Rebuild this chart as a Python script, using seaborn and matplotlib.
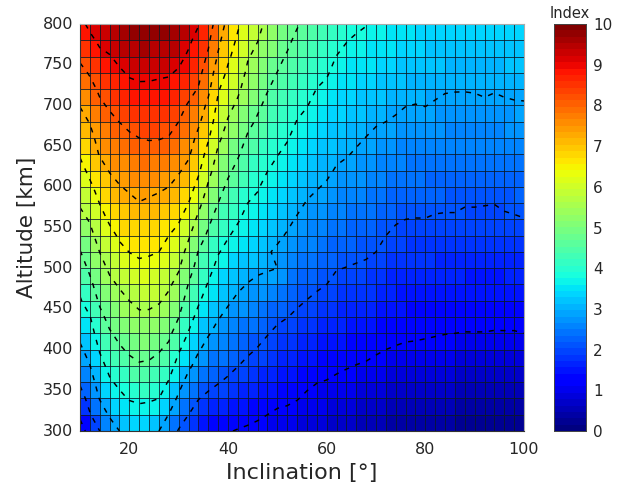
import numpy as np
import pandas as pd
import matplotlib
matplotlib.use("Agg")
import matplotlib.pyplot as plt
import seaborn as sns

# ==========================
# DATA (index, 300..800 km every 20 km, per inclination)
# ==========================
altitudes = list(range(300, 801, 20))
inclinations = list(range(10, 101, 2))
contour_levels = [1.17, 2.05, 2.92, 3.8, 4.67, 5.55, 6.42, 7.29, 8.16, 9.04]
x_ticks = [20, 40, 60, 80, 100]
y_ticks = [300, 350, 400, 450, 500, 550, 600, 650, 700, 750, 800]
bar_ticks = [0, 1, 2, 3, 4, 5, 6, 7, 8, 9, 10]

inc_10 = [.85, 1.3, 1.75, 2.13, 2.46, 2.79, 3.1, 3.41, 3.72, 4.02, 4.33, 4.64, 4.98, 5.31, 5.64, 5.87, 6.17, 6.49, 6.76, 7.03, 7.32, 7.64, 7.97, 8.28, 8.55, 8.85]
inc_12 = [1.45, 2.0, 2.3, 2.6, 2.9, 3.2, 3.48, 3.76, 4.2, 4.5, 4.8, 5.05, 5.32, 5.62, 5.95, 6.28, 6.6, 6.88, 7.05, 7.33, 7.67, 7.95, 8.22, 8.52, 8.88, 9.2]
inc_14 = [2.05, 2.52, 2.96, 3.25, 3.55, 3.86, 4.17, 4.48, 4.78, 5.04, 5.3, 5.56, 5.86, 6.14, 6.44, 6.7, 7.02, 7.34, 7.57, 7.8, 8.05, 8.27, 8.58, 8.88, 9.17, 9.4]
inc_16 = [2.55, 3.0, 3.35, 3.7, 4.0, 4.3, 4.6, 4.88, 5.14, 5.4, 5.66, 5.92, 6.2, 6.53, 6.8, 7.05, 7.33, 7.55, 7.78, 8.01, 8.24, 8.5, 8.75, 9.0, 9.3, 9.55]
inc_18 = [2.92, 3.28, 3.63, 3.95, 4.27, 4.58, 4.85, 5.1, 5.36, 5.62, 5.92, 6.24, 6.52, 6.78, 7.02, 7.26, 7.47, 7.7, 7.93, 8.17, 8.42, 8.68, 8.94, 9.22, 9.5, 9.72]
inc_20 = [3.05, 3.45, 3.85, 4.17, 4.48, 4.77, 5.04, 5.29, 5.55, 5.84, 6.14, 6.43, 6.67, 6.91, 7.15, 7.38, 7.6, 7.83, 8.06, 8.32, 8.59, 8.85, 9.12, 9.38, 9.62, 9.82]
inc_22 = [3.12, 3.55, 3.92, 4.27, 4.6, 4.9, 5.18, 5.43, 5.7, 5.98, 6.26, 6.53, 6.78, 7.02, 7.27, 7.5, 7.73, 7.94, 8.16, 8.41, 8.66, 8.92, 9.18, 9.43, 9.68, 9.9]
inc_24 = [3.08, 3.52, 3.88, 4.22, 4.57, 4.86, 5.14, 5.42, 5.7, 5.96, 6.22, 6.49, 6.72, 6.96, 7.2, 7.45, 7.7, 7.95, 8.2, 8.43, 8.67, 8.92, 9.17, 9.43, 9.68, 9.9]
inc_26 = [2.92, 3.36, 3.8, 4.12, 4.42, 4.73, 5.02, 5.31, 5.61, 5.88, 6.15, 6.42, 6.66, 6.9, 7.13, 7.38, 7.65, 7.92, 8.19, 8.42, 8.65, 8.89, 9.13, 9.38, 9.62, 9.85]
inc_28 = [2.45, 2.9, 3.32, 3.75, 4.14, 4.5, 4.84, 5.1, 5.38, 5.66, 5.9, 6.16, 6.42, 6.7, 7.0, 7.29, 7.57, 7.85, 8.13, 8.38, 8.62, 8.86, 9.1, 9.35, 9.58, 9.75]
inc_30 = [2.0, 2.38, 2.8, 3.16, 3.5, 3.88, 4.28, 4.69, 5.0, 5.3, 5.62, 5.9, 6.2, 6.5, 6.78, 7.07, 7.36, 7.63, 7.9, 8.16, 8.36, 8.64, 8.96, 9.22, 9.44, 9.6]
inc_32 = [1.72, 2.05, 2.32, 2.67, 3.05, 3.45, 3.76, 4.06, 4.35, 4.64, 4.97, 5.3, 5.65, 6.02, 6.42, 6.77, 7.09, 7.39, 7.63, 7.87, 8.1, 8.38, 8.67, 8.94, 9.16, 9.35]
inc_34 = [1.5, 1.8, 2.07, 2.37, 2.67, 2.98, 3.28, 3.6, 3.89, 4.14, 4.39, 4.64, 5.02, 5.38, 5.78, 6.18, 6.55, 6.83, 7.1, 7.42, 7.76, 8.12, 8.36, 8.58, 8.82, 9.08]
inc_36 = [1.3, 1.6, 1.93, 2.2, 2.45, 2.7, 2.97, 3.23, 3.49, 3.75, 4.0, 4.27, 4.54, 4.83, 5.13, 5.45, 5.8, 6.15, 6.5, 6.85, 7.1, 7.48, 7.78, 8.05, 8.3, 8.55]
inc_38 = [1.22, 1.5, 1.8, 2.08, 2.3, 2.52, 2.74, 2.96, 3.18, 3.4, 3.62, 3.84, 4.06, 4.38, 4.67, 4.9, 5.15, 5.4, 5.7, 6.0, 6.25, 6.5, 6.85, 7.2, 7.48, 7.78]
inc_40 = [1.2, 1.45, 1.7, 1.96, 2.2, 2.42, 2.6, 2.78, 2.99, 3.2, 3.42, 3.63, 3.84, 4.07, 4.31, 4.55, 4.78, 5.02, 5.25, 5.49, 5.74, 5.98, 6.28, 6.55, 6.8, 7.05]
inc_42 = [1.14, 1.38, 1.6, 1.82, 2.06, 2.28, 2.47, 2.63, 2.82, 3.02, 3.23, 3.44, 3.65, 3.85, 4.07, 4.3, 4.51, 4.73, 4.96, 5.19, 5.43, 5.67, 5.88, 6.08, 6.3, 6.52]
inc_44 = [1.1, 1.3, 1.5, 1.72, 1.92, 2.14, 2.33, 2.53, 2.72, 2.9, 3.08, 3.27, 3.45, 3.63, 3.8, 4.0, 4.2, 4.4, 4.6, 4.82, 5.04, 5.25, 5.43, 5.6, 5.82, 6.05]
inc_46 = [1.05, 1.24, 1.44, 1.63, 1.83, 2.02, 2.22, 2.43, 2.62, 2.82, 3.0, 3.17, 3.34, 3.52, 3.69, 3.85, 4.03, 4.22, 4.41, 4.59, 4.77, 4.97, 5.17, 5.38, 5.57, 5.72]
inc_48 = [1.0, 1.17, 1.36, 1.55, 1.74, 1.92, 2.07, 2.27, 2.47, 2.77, 2.96, 2.96, 3.12, 3.29, 3.46, 3.63, 3.81, 3.99, 4.17, 4.35, 4.53, 4.7, 4.85, 5.03, 5.22, 5.42]
inc_50 = [.95, 1.1, 1.28, 1.45, 1.63, 1.8, 1.97, 2.12, 2.35, 2.72, 2.92, 2.85, 3.0, 3.17, 3.34, 3.51, 3.66, 3.82, 3.98, 4.15, 4.32, 4.49, 4.66, 4.81, 5.0, 5.2]
inc_52 = [.9, 1.07, 1.25, 1.42, 1.58, 1.73, 1.88, 2.06, 2.22, 2.42, 2.62, 2.76, 2.88, 3.02, 3.19, 3.35, 3.51, 3.68, 3.84, 4.0, 4.16, 4.31, 4.47, 4.62, 4.78, 4.98]
inc_54 = [.85, 1.02, 1.19, 1.35, 1.5, 1.65, 1.81, 1.97, 2.12, 2.28, 2.43, 2.58, 2.73, 2.88, 3.03, 3.18, 3.33, 3.48, 3.63, 3.78, 3.93, 4.09, 4.24, 4.39, 4.55, 4.72]
inc_56 = [.8, .95, 1.1, 1.25, 1.41, 1.57, 1.73, 1.89, 2.04, 2.19, 2.33, 2.47, 2.61, 2.75, 2.89, 3.04, 3.2, 3.35, 3.51, 3.67, 3.82, 3.96, 4.1, 4.24, 4.39, 4.55]
inc_58 = [.75, .9, 1.04, 1.18, 1.33, 1.49, 1.65, 1.81, 1.97, 2.11, 2.25, 2.39, 2.53, 2.67, 2.81, 2.95, 3.09, 3.23, 3.37, 3.51, 3.65, 3.79, 3.94, 4.09, 4.25, 4.4]
inc_60 = [.72, .86, 1.0, 1.15, 1.3, 1.45, 1.6, 1.75, 1.9, 2.05, 2.18, 2.32, 2.46, 2.6, 2.73, 2.87, 3.0, 3.14, 3.28, 3.42, 3.56, 3.7, 3.85, 3.98, 4.12, 4.25]
inc_62 = [.66, .8, .95, 1.1, 1.24, 1.38, 1.52, 1.66, 1.8, 1.93, 2.07, 2.2, 2.34, 2.48, 2.61, 2.74, 2.88, 3.0, 3.13, 3.26, 3.39, 3.52, 3.65, 3.79, 3.97, 4.15]
inc_64 = [.6, .75, .9, 1.05, 1.2, 1.34, 1.48, 1.62, 1.76, 1.9, 2.04, 2.17, 2.3, 2.43, 2.56, 2.69, 2.82, 2.95, 3.07, 3.2, 3.32, 3.44, 3.57, 3.69, 3.82, 4.0]
inc_66 = [.55, .7, .85, 1.0, 1.16, 1.3, 1.44, 1.58, 1.72, 1.86, 2.01, 2.14, 2.26, 2.38, 2.5, 2.62, 2.75, 2.87, 2.99, 3.12, 3.24, 3.37, 3.49, 3.61, 3.73, 3.9]
inc_68 = [.5, .65, .81, .97, 1.13, 1.27, 1.41, 1.55, 1.69, 1.83, 1.98, 2.11, 2.23, 2.34, 2.46, 2.57, 2.69, 2.8, 2.91, 3.04, 3.17, 3.3, 3.43, 3.56, 3.68, 3.82]
inc_70 = [.45, .6, .76, .92, 1.07, 1.22, 1.36, 1.5, 1.63, 1.77, 1.91, 2.05, 2.16, 2.27, 2.39, 2.5, 2.61, 2.72, 2.83, 2.96, 3.09, 3.22, 3.35, 3.47, 3.6, 3.72]
inc_72 = [.4, .55, .71, .86, 1.02, 1.17, 1.3, 1.42, 1.55, 1.67, 1.8, 1.92, 2.05, 2.17, 2.3, 2.42, 2.55, 2.67, 2.8, 2.92, 3.04, 3.16, 3.28, 3.4, 3.53, 3.65]
inc_74 = [.37, .52, .67, .83, .98, 1.14, 1.26, 1.38, 1.5, 1.62, 1.73, 1.85, 1.97, 2.09, 2.22, 2.35, 2.48, 2.61, 2.74, 2.87, 2.99, 3.11, 3.23, 3.35, 3.48, 3.6]
inc_76 = [.34, .49, .64, .79, .95, 1.11, 1.24, 1.35, 1.47, 1.58, 1.7, 1.82, 1.93, 2.05, 2.17, 2.3, 2.42, 2.55, 2.67, 2.8, 2.93, 3.05, 3.18, 3.3, 3.42, 3.55]
inc_78 = [.32, .47, .62, .78, .94, 1.1, 1.23, 1.34, 1.46, 1.57, 1.69, 1.8, 1.92, 2.04, 2.16, 2.28, 2.41, 2.53, 2.65, 2.78, 2.91, 3.03, 3.14, 3.26, 3.38, 3.5]
inc_80 = [.3, .45, .6, .76, .92, 1.07, 1.22, 1.33, 1.45, 1.57, 1.69, 1.8, 1.92, 2.04, 2.17, 2.29, 2.42, 2.55, 2.67, 2.8, 2.93, 3.03, 3.14, 3.24, 3.35, 3.45]
inc_82 = [.28, .43, .58, .74, .89, 1.05, 1.2, 1.31, 1.43, 1.54, 1.66, 1.78, 1.89, 2.01, 2.13, 2.26, 2.38, 2.51, 2.63, 2.76, 2.88, 3.0, 3.11, 3.21, 3.32, 3.42]
inc_84 = [.26, .41, .56, .72, .87, 1.03, 1.18, 1.3, 1.41, 1.53, 1.65, 1.76, 1.88, 2.0, 2.12, 2.24, 2.36, 2.48, 2.6, 2.72, 2.84, 2.95, 3.06, 3.17, 3.29, 3.4]
inc_86 = [.24, .39, .55, .7, .86, 1.01, 1.17, 1.29, 1.41, 1.53, 1.65, 1.77, 1.88, 2.0, 2.12, 2.24, 2.35, 2.47, 2.59, 2.71, 2.83, 2.94, 3.06, 3.17, 3.28, 3.4]
inc_88 = [.22, .38, .53, .69, .84, 1.0, 1.16, 1.27, 1.39, 1.5, 1.62, 1.73, 1.85, 1.96, 2.08, 2.2, 2.33, 2.45, 2.57, 2.7, 2.82, 2.94, 3.05, 3.16, 3.27, 3.38]
inc_90 = [.2, .36, .52, .68, .84, 1.0, 1.16, 1.28, 1.4, 1.5, 1.62, 1.75, 1.85, 1.96, 2.08, 2.2, 2.33, 2.45, 2.58, 2.7, 2.83, 2.95, 3.05, 3.15, 3.28, 3.38]
inc_92 = [.2, .36, .52, .68, .84, 1.0, 1.16, 1.27, 1.38, 1.5, 1.61, 1.72, 1.84, 1.95, 2.07, 2.2, 2.33, 2.46, 2.6, 2.73, 2.86, 2.98, 3.07, 3.17, 3.28, 3.38]
inc_94 = [.2, .36, .52, .68, .84, 1.0, 1.15, 1.26, 1.37, 1.49, 1.6, 1.71, 1.82, 1.94, 2.06, 2.19, 2.32, 2.45, 2.58, 2.7, 2.82, 2.95, 3.05, 3.16, 3.27, 3.38]
inc_96 = [.2, .36, .52, .68, .84, 1.0, 1.15, 1.27, 1.39, 1.51, 1.63, 1.75, 1.87, 1.99, 2.11, 2.23, 2.36, 2.48, 2.61, 2.73, 2.86, 2.98, 3.08, 3.18, 3.28, 3.38]
inc_98 = [.2, .36, .52, .68, .84, 1.0, 1.15, 1.27, 1.39, 1.52, 1.64, 1.76, 1.89, 2.01, 2.14, 2.26, 2.38, 2.51, 2.63, 2.75, 2.88, 3.0, 3.09, 3.19, 3.28, 3.38]
inc_100 = [.2, .36, .52, .69, .85, 1.01, 1.17, 1.29, 1.41, 1.54, 1.66, 1.79, 1.91, 2.04, 2.16, 2.29, 2.41, 2.54, 2.66, 2.79, 2.89, 3.0, 3.1, 3.2, 3.3, 3.4]

grid_values = np.column_stack([
    inc_10, inc_12, inc_14, inc_16, inc_18, inc_20, inc_22, inc_24, inc_26, inc_28,
    inc_30, inc_32, inc_34, inc_36, inc_38, inc_40, inc_42, inc_44, inc_46, inc_48,
    inc_50, inc_52, inc_54, inc_56, inc_58, inc_60, inc_62, inc_64, inc_66, inc_68,
    inc_70, inc_72, inc_74, inc_76, inc_78, inc_80, inc_82, inc_84, inc_86, inc_88,
    inc_90, inc_92, inc_94, inc_96, inc_98, inc_100
])

# each cell shows the mean of its four corners
cells = (grid_values[:-1, :-1] + grid_values[1:, :-1] + grid_values[:-1, 1:] + grid_values[1:, 1:]) / 4
df = pd.DataFrame(cells)

# ==========================
# FIGURE
# ==========================
sns.set_theme(style="white")
plt.rcParams["font.family"] = ["DejaVu Sans"]
text_color = "#262626"

W, H = 621, 486
fig = plt.figure(figsize=(W / 100, H / 100), dpi=100)
ax = fig.add_axes([80 / W, 1 - 431 / H, 444 / W, 407 / H])
cax = fig.add_axes([554 / W, 1 - 431 / H, 32 / W, 407 / H])

sns.heatmap(
    df,
    ax=ax,
    cbar_ax=cax,
    cmap=plt.get_cmap("jet", 64),
    vmin=0,
    vmax=10,
    linewidths=0,
    cbar_kws={"ticks": bar_ticks},
)

# thin cell grid drawn on top of the heatmap, one pixel wide
v_grid = ax.vlines(np.arange(len(inclinations)), 0, len(altitudes) - 1, colors="#0c1a26", linewidths=0.72, alpha=0.8)
h_grid = ax.hlines(np.arange(len(altitudes)), 0, len(inclinations) - 1, colors="#0c1a26", linewidths=0.72, alpha=0.8)
v_grid.set_snap(True)
h_grid.set_snap(True)

# contour lines on the grid nodes, in heatmap cell coordinates
ax.contour(
    np.arange(len(inclinations)),
    np.arange(len(altitudes)),
    grid_values,
    levels=contour_levels,
    colors="black",
    linestyles=[(0, (3.5, 4.5))],
    linewidths=1.05,
)

ax.set_xlim(0, len(inclinations) - 1)
ax.set_ylim(0, len(altitudes) - 1)
ax.set_xticks([(v - inclinations[0]) / 2 for v in x_ticks])
ax.set_xticklabels(x_ticks, rotation=0, fontsize=11.5, color=text_color)
ax.set_yticks([(v - altitudes[0]) / 20 for v in y_ticks])
ax.set_yticklabels(y_ticks, rotation=0, fontsize=11.5, color=text_color)
ax.tick_params(axis="x", bottom=True, direction="in", length=3, width=0.6, color="#333333", pad=8)
ax.tick_params(axis="y", left=True, direction="in", length=3, width=0.6, color="#333333", pad=5)
ax.set_xlabel("Inclination [°]", fontsize=16, color=text_color, labelpad=4)
ax.set_ylabel("Altitude [km]", fontsize=15.5, color=text_color, labelpad=4)

for name, spine in ax.spines.items():
    spine.set_visible(True)
    spine.set_linewidth(0.8)
    spine.set_color("#aaaaaa" if name in ("top", "right") else "#333333")

cax.tick_params(right=True, direction="in", length=3, width=0.6, labelsize=11, labelcolor=text_color, color="#333333", pad=5)
for spine in cax.spines.values():
    spine.set_visible(True)
    spine.set_linewidth(0.6)
    spine.set_color("#444444")
cax.set_title("Index", fontsize=10.5, color=text_color, pad=4)

fig.savefig("out.png", dpi=100)
